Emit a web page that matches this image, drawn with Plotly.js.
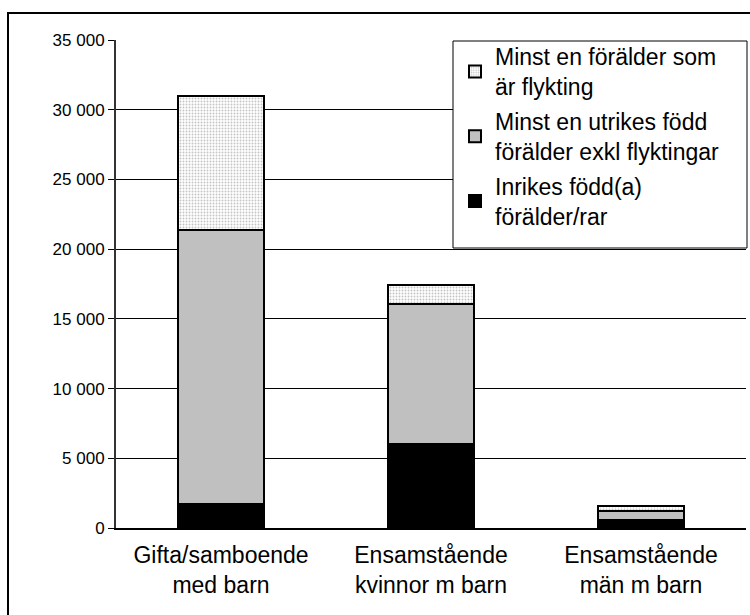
<!DOCTYPE html>
<html>
<head>
<meta charset="utf-8">
<script src="https://cdn.plot.ly/plotly-3.0.1.min.js"></script>
<style>
  html, body { margin: 0; padding: 0; background: #ffffff; }
  #chart { width: 750px; height: 615px; }
</style>
</head>
<body>
<div id="chart"></div>
<script>
const categories = ["Gifta/samboende<br>med barn", "Ensamstående<br>kvinnor m barn", "Ensamstående<br>män m barn"];
const seriesNames = ["Inrikes född(a)<br>förälder/rar", "Minst en utrikes född<br>förälder exkl flyktingar", "Minst en förälder som<br>är flykting"];
const inrikes = [1700, 6050, 600];
const utrikes = [19700, 10000, 600];
const flykting = [9600, 1400, 350];
const yTicks = [0, 5000, 10000, 15000, 20000, 25000, 30000, 35000];
const yTickLabels = ["0", "5 000", "10 000", "15 000", "20 000", "25 000", "30 000", "35 000"];

const FONT = "Liberation Sans, Arial, sans-serif";
const lineStyle = { color: "#000000", width: 2 };

const traces = [
  {
    type: "bar", name: seriesNames[0], legendgroup: "g1", legendrank: 3, x: categories, y: inrikes,
    marker: { color: "#000000", line: lineStyle }, width: 0.405
  },
  {
    type: "bar", name: seriesNames[1], legendgroup: "g2", legendrank: 2, x: categories, y: utrikes,
    marker: { color: "#c0c0c0", line: lineStyle }, width: 0.405
  },
  {
    type: "bar", name: seriesNames[2], legendgroup: "g3", legendrank: 1, x: categories, y: flykting,
    marker: {
      color: "#ffffff", line: lineStyle,
      pattern: { shape: ".", fgcolor: "#c4c4c4", bgcolor: "#ffffff", size: 3, solidity: 0.3 }
    },
    width: 0.405
  }
];

// plot area: x 116..746, y 40..528
const L = 116, R = 746, T = 40, B = 528, W = 750, H = 615;
const pw = R - L, ph = B - T;
function px(xp) { return (xp - L) / pw; }
function py(yp) { return (B - yp) / ph; }

const layout = {
  width: W, height: H,
  margin: { l: L, r: W - R, t: T, b: H - B },
  paper_bgcolor: "#ffffff", plot_bgcolor: "#ffffff",
  barmode: "stack",
  separators: ", ",
  font: { family: FONT, color: "#000000", size: 17 },
  showlegend: true,
  legend: {
    x: px(455), xanchor: "left", y: py(35), yanchor: "top",
    bgcolor: "rgba(0,0,0,0)", borderwidth: 0,
    traceorder: "grouped",
    font: { family: FONT, size: 23, color: "#000000" },
    tracegroupgap: 2
  },
  xaxis: {
    type: "category",
    range: [-0.5, 2.5],
    showline: true, linecolor: "#000000", linewidth: 1.5,
    showgrid: false, zeroline: false,
    ticks: "", ticklabelstandoff: 6,
    tickfont: { family: FONT, size: 23, color: "#000000" },
    fixedrange: true
  },
  yaxis: {
    range: [0, 35000],
    tickmode: "array", tickvals: yTicks, ticktext: yTickLabels,
    ticks: "outside", ticklen: 6, tickwidth: 1, tickcolor: "#000000",
    showline: true, linecolor: "#333333", linewidth: 2,
    showgrid: true, gridcolor: "#000000", gridwidth: 1,
    zeroline: false,
    tickfont: { family: FONT, size: 17, color: "#000000" },
    fixedrange: true
  },
  shapes: [
    {
      type: "rect", xref: "paper", yref: "paper",
      x0: px(8), x1: px(752), y0: py(625), y1: py(13),
      line: { color: "#000000", width: 2 }, fillcolor: "rgba(0,0,0,0)", layer: "below"
    },
    {
      type: "rect", xref: "paper", yref: "paper",
      x0: px(453), x1: px(747), y0: py(248), y1: py(41),
      line: { color: "#000000", width: 1 }, fillcolor: "#ffffff", layer: "above"
    }
  ]
};

Plotly.newPlot("chart", traces, layout, { displayModeBar: false, staticPlot: true });
</script>
</body>
</html>
